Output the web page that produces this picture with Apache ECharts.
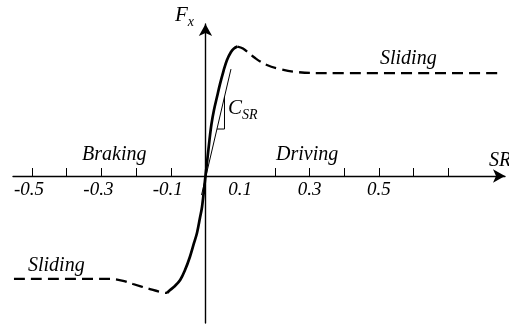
<!DOCTYPE html>
<html>
<head>
<meta charset="utf-8">
<style>
  html, body { margin: 0; padding: 0; background: #fff; }
  #chart { width: 509px; height: 326px; }
</style>
<script src="https://cdn.jsdelivr.net/npm/echarts@6/dist/echarts.min.js"></script>
</head>
<body>
<div id="chart"></div>
<script>
// Tyre longitudinal force Fx versus slip ratio SR (normalised force, peak = 1)

// Linear region around the origin, drawn solid
const solidX = [-0.111, -0.102, -0.088, -0.073, -0.059, -0.045, -0.033, -0.0245, -0.016, -0.010, 0,
                0.0058, 0.0115, 0.0173, 0.0245, 0.0331, 0.0418, 0.0519, 0.0620, 0.0735, 0.0821, 0.0922];
const solidY = [-0.903, -0.880, -0.849, -0.803, -0.726, -0.625, -0.517, -0.440, -0.324, -0.239, 0,
                0.139, 0.278, 0.402, 0.510, 0.610, 0.710, 0.811, 0.896, 0.958, 0.985, 1.0];

// Driving side beyond the peak (sliding), dashed
const slideDriveX = [0.0922, 0.108, 0.143, 0.177, 0.215, 0.264, 0.330, 0.849];
const slideDriveY = [1.0, 0.985, 0.911, 0.857, 0.826, 0.803, 0.795, 0.795];

// Braking side beyond the trough (sliding), dashed
const slideBrakeX = [-0.552, -0.275, -0.241, -0.209, -0.160, -0.122, -0.111];
const slideBrakeY = [-0.795, -0.795, -0.807, -0.834, -0.873, -0.900, -0.903];

// Slip stiffness line C_SR and its slope wedge
const stiffX = [-0.0114, 0.0735];
const stiffY = [-0.147, 0.826];
const wedgeX = [0.0548, 0.0548, 0.0331];
const wedgeY = [0.612, 0.363, 0.363];

// Axis ticks and labels
const tickValues = [-0.5, -0.4, -0.3, -0.2, -0.1, 0.2, 0.3, 0.4, 0.5, 0.6, 0.7];
const labelValues = [-0.5, -0.3, -0.1, 0.1, 0.3, 0.5];
const tickLabels = ['-0.5', '-0.3', '-0.1', '0.1', '0.3', '0.5'];

const zip = (xs, ys) => xs.map((x, i) => [x, ys[i]]);

const SERIF = 'Liberation Serif';
const TXT = '#000';

const chart = echarts.init(document.getElementById('chart'), null, { renderer: 'canvas' });

const curveLine = (name, xs, ys, width, type, smooth) => ({
  name, type: 'line', data: zip(xs, ys), symbol: 'none', smooth: smooth,
  lineStyle: { color: '#000', width: width, type: type, cap: 'butt' },
  silent: true
});

// Tick labels sit just under the SR axis line (which crosses at Fx = 0);
// the minus sign hangs to the left of the tick.
const labelFont = { fontFamily: SERIF, fontStyle: 'italic', fontSize: 19, color: TXT };
const tickLabelSeries = {
  name: 'tick-labels', type: 'scatter', symbolSize: 0, silent: true,
  itemStyle: { opacity: 1 },
  data: labelValues.map((v, i) => ({
    value: [v, 0],
    label: Object.assign({ formatter: tickLabels[i], offset: [v < 0 ? -3 : 0, 1] }, labelFont)
  })),
  label: Object.assign({ show: true, position: 'bottom', distance: 3 }, labelFont)
};

const textMark = (text, left, top) => ({
  type: 'text', left, top,
  style: { text, font: 'italic 20px "Liberation Serif"', fill: TXT }
});

const mathRich = {
  m: { fontFamily: SERIF, fontStyle: 'italic', fontSize: 21, color: '#000', verticalAlign: 'bottom' },
  s: { fontFamily: SERIF, fontStyle: 'italic', fontSize: 14, color: '#000', verticalAlign: 'bottom', padding: [0, 0, -3, 0] }
};

chart.setOption({
  animation: false,
  backgroundColor: '#fff',
  grid: { left: 13, right: 4, top: 24, bottom: 3, containLabel: false, outerBoundsMode: 'none' },
  xAxis: {
    type: 'value', min: -0.5548, max: 0.8633,
    axisLine: {
      onZero: true, symbol: ['none', 'arrow'], symbolSize: [10, 12],
      lineStyle: { color: '#000', width: 1.4 }
    },
    axisTick: {
      show: true, inside: true, length: 8, customValues: tickValues,
      lineStyle: { color: '#000', width: 1 }
    },
    axisLabel: { show: false },
    splitLine: { show: false }
  },
  yAxis: {
    type: 'value', min: -1.135, max: 1.174,
    axisLine: {
      show: true, onZero: true, symbol: ['none', 'arrow'], symbolSize: [10, 12],
      lineStyle: { color: '#000', width: 1.4 }
    },
    axisTick: { show: false },
    axisLabel: { show: false },
    splitLine: { show: false }
  },
  series: [
    curveLine('stiffness', stiffX, stiffY, 1, 'solid', false),
    curveLine('wedge', wedgeX, wedgeY, 1, 'solid', false),
    curveLine('linear', solidX, solidY, 2.7, 'solid', 0.35),
    curveLine('sliding-driving', slideDriveX, slideDriveY, 2.3, [11, 6], 0.4),
    curveLine('sliding-braking', slideBrakeX, slideBrakeY, 2.3, [11, 6], 0.4),
    tickLabelSeries
  ],
  graphic: [
    textMark('Braking', 82, 145),
    textMark('Driving', 276, 145),
    textMark('Sliding', 380, 49),
    textMark('Sliding', 28, 256),
    { type: 'text', left: 175, top: 5, style: { text: '{m|F}{s|x}', rich: mathRich } },
    { type: 'text', left: 228, top: 98, style: { text: '{m|C}{s|SR}', rich: mathRich } },
    { type: 'text', left: 489, top: 151, style: { text: 'SR', font: 'italic 20px "Liberation Serif"', fill: '#000' } }
  ]
});
</script>
</body>
</html>
